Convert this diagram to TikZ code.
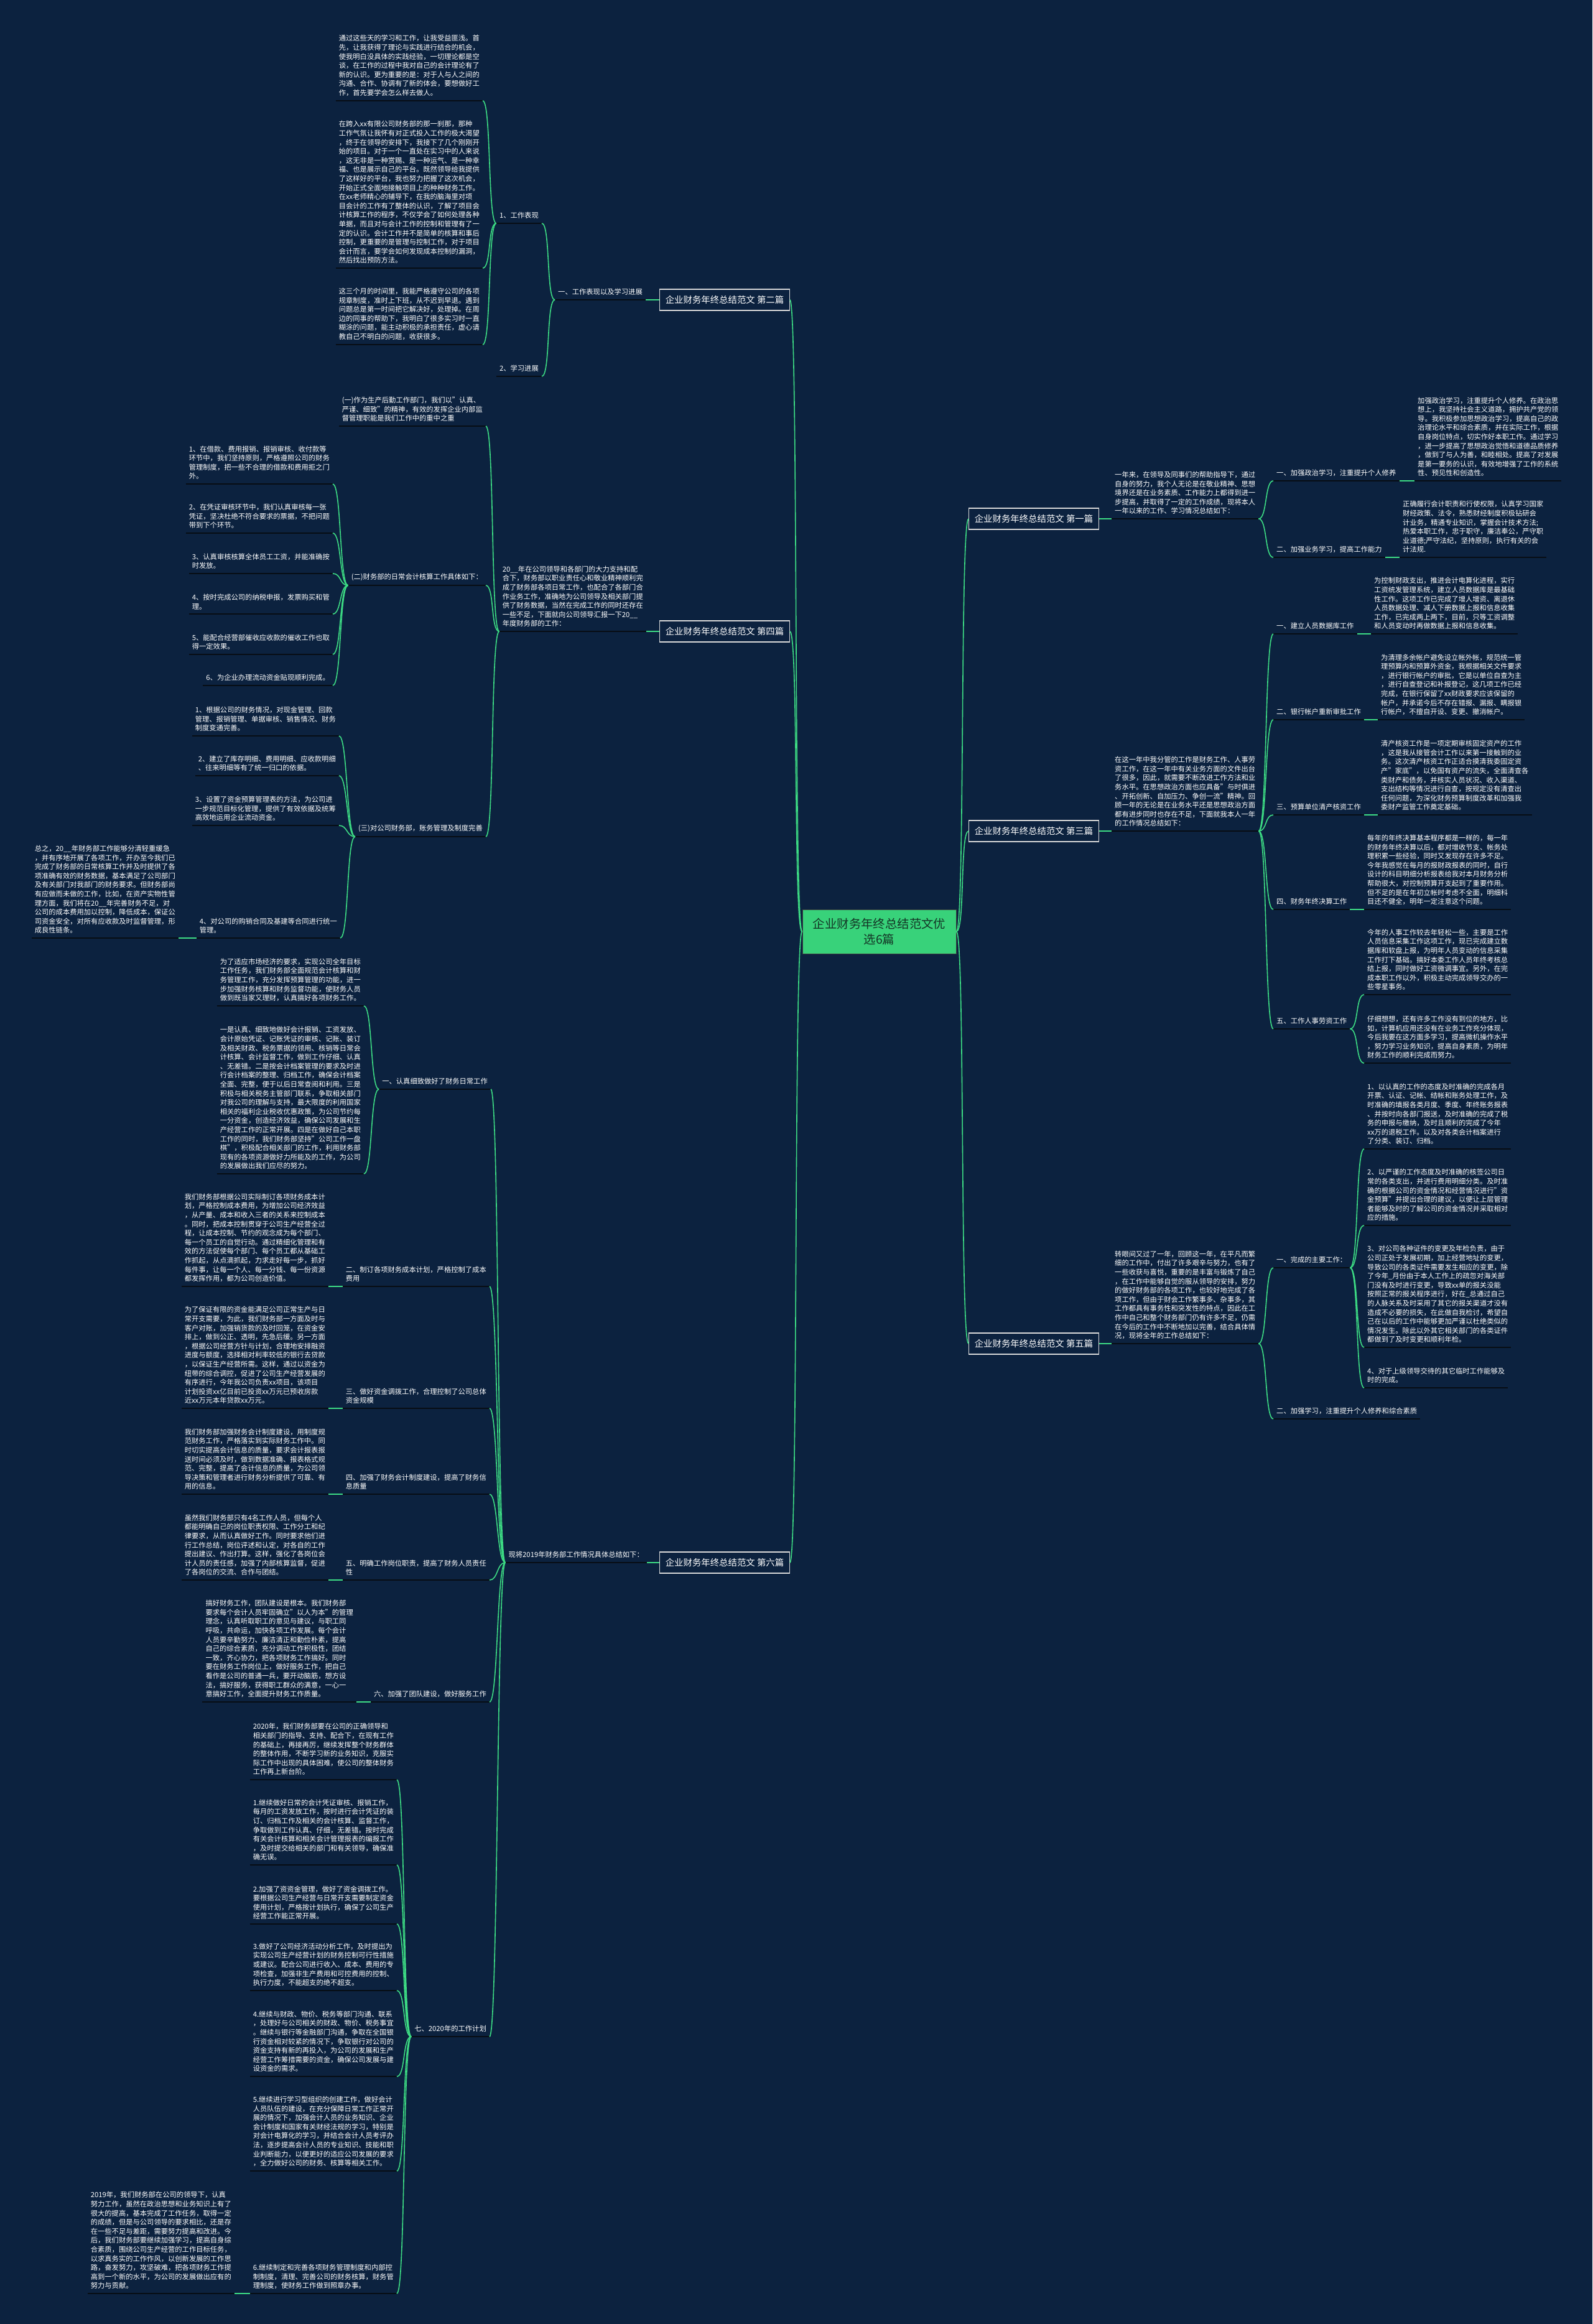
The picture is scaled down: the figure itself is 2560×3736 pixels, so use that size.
\documentclass[tikz,border=0pt]{standalone}
\usepackage{fontspec}
\setmainfont{Noto Sans CJK SC}
\usepackage{tikz}
\usetikzlibrary{positioning}
\definecolor{bgnavy}{HTML}{0C223F}
\definecolor{linkgreen}{HTML}{3DDC84}
\definecolor{rootgreen}{HTML}{38D27A}
\definecolor{rootink}{HTML}{143526}
\definecolor{rulecol}{HTML}{070D14}
\tikzset{
    central/.style={rectangle, fill=rootgreen, draw=black!75, line width=1pt, text=rootink, align=center, font=\fontsize{19.4}{25}\selectfont, minimum width=247pt, minimum height=71pt, inner sep=0pt},
    chapter/.style={rectangle, fill=bgnavy, draw=white!85!black, line width=1.3pt, text=white, font=\fontsize{14.4}{17}\selectfont, minimum height=34pt, inner xsep=9pt, inner ysep=0pt},
    entry/.style={text=white, align=left, font=\fontsize{11.3}{14.6}\selectfont, inner xsep=5pt, inner ysep=7pt,
        append after command={(\tikzlastnode.south west) edge[draw=rulecol, line width=2pt] (\tikzlastnode.south east)}},
    lentry/.style={entry, anchor=south east},
    rentry/.style={entry, anchor=south west},
    linkleft/.style={draw=linkgreen, line width=1.6pt, to path={.. controls +(-14,0) and +(14,0) .. (\tikztotarget) \tikztonodes}},
    linkright/.style={draw=linkgreen, line width=1.6pt, to path={.. controls +(14,0) and +(-14,0) .. (\tikztotarget) \tikztonodes}}
}

\begin{document}
\begin{tikzpicture}[x=1pt, y=-1pt]
    \fill[bgnavy] (0,0) rectangle (2560,3736);
    \useasboundingbox (0,0) rectangle (2560,3736);

    \node[central] (root) at (1413.5,1497.5) {企业财务年终总结范文优\\选6篇};

    \begin{scope}
        \node[chapter] (p2) at (1165,482) {企业财务年终总结范文 第二篇};
        \node[lentry] (p2a) at (1038,482) {一、工作表现以及学习进展};
        \node[lentry] (p2b) at (871,359) {1、工作表现};
        \node[lentry] (p2c) at (871,605) {2、学习进展};
        \node[lentry] (p2b1) at (776,162) {通过这些天的学习和工作，让我受益匪浅。首\\先，让我获得了理论与实践进行结合的机会，\\使我明白没具体的实践经验，一切理论都是空\\谈，在工作的过程中我对自己的会计理论有了\\新的认识。更为重要的是：对于人与人之间的\\沟通、合作、协调有了新的体会，要想做好工\\作，首先要学会怎么样去做人。};
        \node[lentry] (p2b2) at (776,431) {在跨入xx有限公司财务部的那一刹那，那种\\工作气氛让我怀有对正式投入工作的极大渴望\\，终于在领导的安排下，我接下了几个刚刚开\\始的项目。对于一个一直处在实习中的人来说\\，这无非是一种赏赐、是一种运气、是一种幸\\福、也是展示自己的平台。既然领导给我提供\\了这样好的平台，我也努力把握了这次机会，\\开始正式全面地接触项目上的种种财务工作。\\在xx老师精心的辅导下，在我的脑海里对项\\目会计的工作有了整体的认识，了解了项目会\\计核算工作的程序，不仅学会了如何处理各种\\单据，而且对与会计工作的控制和管理有了一\\定的认识。会计工作并不是简单的核算和事后\\控制，更重要的是管理与控制工作，对于项目\\会计而言，要学会如何发现成本控制的漏洞，\\然后找出预防方法。};
        \node[lentry] (p2b3) at (776,554) {这三个月的时间里，我能严格遵守公司的各项\\规章制度，准时上下班，从不迟到早退。遇到\\问题总是第一时间把它解决好，处理掉。在周\\边的同事的帮助下，我明白了很多实习时一直\\糊涂的问题，能主动积极的承担责任，虚心请\\教自己不明白的问题，收获很多。};
        \draw[linkleft] (root.west) to (p2.east);
        \draw[linkleft] (p2.west) to (p2a.south east);
        \draw[linkleft] (p2a.south west) to (p2b.south east);
        \draw[linkleft] (p2a.south west) to (p2c.south east);
        \foreach \c in {p2b1,p2b2,p2b3}
            \draw[linkleft] (p2b.south west) to (\c.south east);
    \end{scope}

    \begin{scope}
        \node[chapter] (p4) at (1165,1015) {企业财务年终总结范文 第四篇};
        \node[lentry] (p4a) at (1039,1015) {20\_\_年在公司领导和各部门的大力支持和配\\合下，财务部以职业责任心和敬业精神顺利完\\成了财务部各项日常工作，也配合了各部门合\\作业务工作，准确地为公司领导及相关部门提\\供了财务数据，当然在完成工作的同时还存在\\一些不足，下面就向公司领导汇报一下20\_\_\\年度财务部的工作：};
        \node[lentry] (p4b) at (781,685) {(一)作为生产后勤工作部门，我们以"认真、\\严谨、细致"的精神，有效的发挥企业内部监\\督管理职能是我们工作中的重中之重};
        \node[lentry] (p4c) at (781,941) {(二)财务部的日常会计核算工作具体如下：};
        \node[lentry] (p4d) at (781,1345) {(三)对公司财务部，账务管理及制度完善};
        \node[lentry] (p4c1) at (535,778) {1、在借款、费用报销、报销审核、收付款等\\环节中，我们坚持原则，严格遵照公司的财务\\管理制度，把一些不合理的借款和费用拒之门\\外。};
        \node[lentry] (p4c2) at (535,857) {2、在凭证审核环节中，我们认真审核每一张\\凭证，坚决杜绝不符合要求的票据，不把问题\\带到下个环节。};
        \node[lentry] (p4c3) at (535,922) {3、认真审核核算全体员工工资，并能准确按\\时发放。};
        \node[lentry] (p4c4) at (535,987) {4、按时完成公司的纳税申报，发票购买和管\\理。};
        \node[lentry] (p4c5) at (535,1052) {5、能配合经营部催收应收款的催收工作也取\\得一定效果。};
        \node[lentry] (p4c6) at (535,1102) {6、为企业办理流动资金贴现顺利完成。};
        \node[lentry] (p4d1) at (545,1183) {1、根据公司的财务情况，对现金管理、回款\\管理、报销管理、单据审核、销售情况、财务\\制度变通完善。};
        \node[lentry] (p4d2) at (545,1247) {2、建立了库存明细、费用明细、应收款明细\\、往来明细等有了统一归口的依据。};
        \node[lentry] (p4d3) at (545,1327) {3、设置了资金预算管理表的方法，为公司进\\一步规范目标化管理，提供了有效依据及统筹\\高效地运用企业流动资金。};
        \node[lentry] (p4d4) at (547,1508) {4、对公司的购销合同及基建等合同进行统一\\管理。};
        \node[lentry] (p4d5) at (287,1508) {总之，20\_\_年财务部工作能够分清轻重缓急\\，并有序地开展了各项工作，开办至今我们已\\完成了财务部的日常核算工作并及时提供了各\\项准确有效的财务数据，基本满足了公司部门\\及有关部门对我部门的财务要求。但财务部尚\\有应做而未做的工作，比如，在资产实物性管\\理方面，我们将在20\_\_年完善财务不足，对\\公司的成本费用加以控制，降低成本，保证公\\司资金安全，对所有应收款及时监督管理，形\\成良性链条。};
        \draw[linkleft] (root.west) to (p4.east);
        \draw[linkleft] (p4.west) to (p4a.south east);
        \foreach \c in {p4b,p4c,p4d}
            \draw[linkleft] (p4a.south west) to (\c.south east);
        \foreach \c in {p4c1,p4c2,p4c3,p4c4,p4c5,p4c6}
            \draw[linkleft] (p4c.south west) to (\c.south east);
        \foreach \c in {p4d1,p4d2,p4d3,p4d4}
            \draw[linkleft] (p4d.south west) to (\c.south east);
        \draw[linkleft] (p4d4.south west) to (p4d5.south east);
    \end{scope}

    \begin{scope}
        \node[chapter] (p6) at (1165,2512) {企业财务年终总结范文 第六篇};
        \node[lentry] (p6a) at (1040,2512) {现将2019年财务部工作情况具体总结如下：};
        \node[lentry] (p6b) at (789,1751) {一、认真细致做好了财务日常工作};
        \node[lentry] (p6b1) at (585,1617) {为了适应市场经济的要求，实现公司全年目标\\工作任务，我们财务部全面规范会计核算和财\\务管理工作，充分发挥预算管理的功能，进一\\步加强财务核算和财务监督功能，使财务人员\\做到既当家又理财，认真搞好各项财务工作。};
        \node[lentry] (p6b2) at (585,1887) {一是认真、细致地做好会计报销、工资发放、\\会计原始凭证、记账凭证的审核、记账、装订\\及相关财政、税务票据的领用、核销等日常会\\计核算、会计监督工作，做到工作仔细、认真\\、无差错。二是按会计档案管理的要求及时进\\行会计档案的整理、归档工作，确保会计档案\\全面、完整，便于以后日常查阅和利用。三是\\积极与相关税务主管部门联系，争取相关部门\\对我公司的理解与支持，最大限度的利用国家\\相关的福利企业税收优惠政策，为公司节约每\\一分资金，创造经济效益，确保公司发展和生\\产经营工作的正常开展。四是在做好自己本职\\工作的同时，我们财务部坚持"公司工作一盘\\棋"，积极配合相关部门的工作，利用财务部\\现有的各项资源做好力所能及的工作，为公司\\的发展做出我们应尽的努力。};
        \node[lentry] (p6c) at (787,2068) {二、制订各项财务成本计划，严格控制了成本\\费用};
        \node[lentry] (p6c1) at (528,2068) {我们财务部根据公司实际制订各项财务成本计\\划，严格控制成本费用，为增加公司经济效益\\，从产量、成本和收入三者的关系来控制成本\\。同时，把成本控制贯穿于公司生产经营全过\\程，让成本控制、节约的观念成为每个部门、\\每一个员工的自觉行动。通过精细化管理和有\\效的方法促使每个部门、每个员工都从基础工\\作抓起，从点滴抓起，力求走好每一步，抓好\\每件事，让每一个人、每一分钱、每一份资源\\都发挥作用，都为公司创造价值。};
        \node[lentry] (p6d) at (787,2264) {三、做好资金调拨工作，合理控制了公司总体\\资金规模};
        \node[lentry] (p6d1) at (528,2264) {为了保证有限的资金能满足公司正常生产与日\\常开支需要，为此，我们财务部一方面及时与\\客户对账，加强销货款的及时回笼，在资金安\\排上，做到公正、透明，先急后缓。另一方面\\，根据公司经营方针与计划，合理地安排融资\\进度与额度，选择相对利率较低的银行去贷款\\，以保证生产经营所需。这样，通过以资金为\\纽带的综合调控，促进了公司生产经营发展的\\有序进行，今年我公司负责xx项目，该项目\\计划投资xx亿目前已投资xx万元已预收房款\\近xx万元本年贷款xx万元。};
        \node[lentry] (p6e) at (787,2402) {四、加强了财务会计制度建设，提高了财务信\\息质量};
        \node[lentry] (p6e1) at (528,2402) {我们财务部加强财务会计制度建设，用制度规\\范财务工作，严格落实到实际财务工作中。同\\时切实提高会计信息的质量，要求会计报表报\\送时间必须及时，做到数据准确、报表格式规\\范、完整，提高了会计信息的质量，为公司领\\导决策和管理者进行财务分析提供了可靠、有\\用的信息。};
        \node[lentry] (p6f) at (787,2540) {五、明确工作岗位职责，提高了财务人员责任\\性};
        \node[lentry] (p6f1) at (528,2540) {虽然我们财务部只有4名工作人员，但每个人\\都能明确自己的岗位职责权限、工作分工和纪\\律要求，从而认真做好工作。同时要求他们进\\行工作总结，岗位评述和认定，对各自的工作\\提出建议、作出打算。这样，强化了各岗位会\\计人员的责任感，加强了内部核算监督，促进\\了各岗位的交流、合作与团结。};
        \node[lentry] (p6g) at (787,2736) {六、加强了团队建设，做好服务工作};
        \node[lentry] (p6g1) at (573,2736) {搞好财务工作，团队建设是根本。我们财务部\\要求每个会计人员牢固确立"以人为本"的管理\\理念，认真听取职工的意见与建议，与职工同\\呼吸，共命运，加快各项工作发展。每个会计\\人员要辛勤努力、廉洁清正和勤俭朴素，提高\\自己的综合素质，充分调动工作积极性，团结\\一致，齐心协力，把各项财务工作搞好。同时\\要在财务工作岗位上，做好服务工作，把自己\\看作是公司的普通一兵，要开动脑筋，想方设\\法，搞好服务，获得职工群众的满意，一心一\\意搞好工作，全面提升财务工作质量。};
        \node[lentry] (p6h) at (787,3274) {七、2020年的工作计划};
        \node[lentry] (p6h0) at (638,2861) {2020年，我们财务部要在公司的正确领导和\\相关部门的指导、支持、配合下，在现有工作\\的基础上，再接再厉，继续发挥整个财务群体\\的整体作用，不断学习新的业务知识，克服实\\际工作中出现的具体困难，使公司的整体财务\\工作再上新台阶。};
        \node[lentry] (p6h1) at (638,2998) {1.继续做好日常的会计凭证审核、报销工作，\\每月的工资发放工作，按时进行会计凭证的装\\订、归档工作及相关的会计核算、监督工作，\\争取做到工作认真、仔细，无差错。按时完成\\有关会计核算和相关会计管理报表的编报工作\\，及时提交给相关的部门和有关领导，确保准\\确无误。};
        \node[lentry] (p6h2) at (638,3093) {2.加强了资资金管理，做好了资金调拨工作。\\要根据公司生产经营与日常开支需要制定资金\\使用计划，严格按计划执行，确保了公司生产\\经营工作能正常开展。};
        \node[lentry] (p6h3) at (638,3200) {3.做好了公司经济活动分析工作，及时提出为\\实现公司生产经营计划的财务控制可行性措施\\或建议。配合公司进行收入、成本、费用的专\\项检查，加强非生产费用和可控费用的控制、\\执行力度，不能超支的绝不超支。};
        \node[lentry] (p6h4) at (638,3338) {4.继续与财政、物价、税务等部门沟通、联系\\，处理好与公司相关的财政、物价、税务事宜\\。继续与银行等金融部门沟通，争取在全国银\\行资金相对较紧的情况下，争取银行对公司的\\资金支持有新的再投入，为公司的发展和生产\\经营工作筹措需要的资金，确保公司发展与建\\设资金的需求。};
        \node[lentry] (p6h5) at (638,3490) {5.继续进行学习型组织的创建工作，做好会计\\人员队伍的建设，在充分保障日常工作正常开\\展的情况下，加强会计人员的业务知识、企业\\会计制度和国家有关财经法规的学习，特别是\\对会计电算化的学习，并结合会计人员考评办\\法，逐步提高会计人员的专业知识、技能和职\\业判断能力，以便更好的适应公司发展的要求\\，全力做好公司的财务、核算等相关工作。};
        \node[lentry] (p6h6) at (638,3687) {6.继续制定和完善各项财务管理制度和内部控\\制制度，清理、完善公司的财务核算，财务管\\理制度，使财务工作做到照章办事。};
        \node[lentry] (p6h7) at (377,3687) {2019年，我们财务部在公司的领导下，认真\\努力工作，虽然在政治思想和业务知识上有了\\很大的提高，基本完成了工作任务，取得一定\\的成绩，但是与公司领导的要求相比，还是存\\在一些不足与差距，需要努力提高和改进。今\\后，我们财务部要继续加强学习，提高自身综\\合素质，围绕公司生产经营的工作目标任务，\\以求真务实的工作作风，以创新发展的工作思\\路，奋发努力，攻坚破难，把各项财务工作提\\高到一个新的水平，为公司的发展做出应有的\\努力与贡献。};
        \draw[linkleft] (root.west) to (p6.east);
        \draw[linkleft] (p6.west) to (p6a.south east);
        \foreach \c in {p6b,p6c,p6d,p6e,p6f,p6g,p6h}
            \draw[linkleft] (p6a.south west) to (\c.south east);
        \foreach \c in {p6b1,p6b2}
            \draw[linkleft] (p6b.south west) to (\c.south east);
        \draw[linkleft] (p6c.south west) to (p6c1.south east);
        \draw[linkleft] (p6d.south west) to (p6d1.south east);
        \draw[linkleft] (p6e.south west) to (p6e1.south east);
        \draw[linkleft] (p6f.south west) to (p6f1.south east);
        \draw[linkleft] (p6g.south west) to (p6g1.south east);
        \foreach \c in {p6h0,p6h1,p6h2,p6h3,p6h4,p6h5,p6h6}
            \draw[linkleft] (p6h.south west) to (\c.south east);
        \draw[linkleft] (p6h6.south west) to (p6h7.south east);
    \end{scope}

    \begin{scope}
        \node[chapter] (p1) at (1662,834) {企业财务年终总结范文 第一篇};
        \node[rentry] (p1a) at (1787,834) {一年来，在领导及同事们的帮助指导下，通过\\自身的努力，我个人无论是在敬业精神、思想\\境界还是在业务素质、工作能力上都得到进一\\步提高，并取得了一定的工作成绩，现将本人\\一年以来的工作、学习情况总结如下：};
        \node[rentry] (p1b) at (2047,773) {一、加强政治学习，注重提升个人修养};
        \node[rentry] (p1b1) at (2274,773) {加强政治学习，注重提升个人修养。在政治思\\想上，我坚持社会主义道路，拥护共产党的领\\导。我积极参加思想政治学习，提高自己的政\\治理论水平和综合素质，并在实际工作，根据\\自身岗位特点，切实作好本职工作。通过学习\\，进一步提高了思想政治觉悟和道德品质修养\\，做到了与人为善，和睦相处。提高了对发展\\是第一要务的认识，有效地增强了工作的系统\\性、预见性和创造性。};
        \node[rentry] (p1c) at (2047,896) {二、加强业务学习，提高工作能力};
        \node[rentry] (p1c1) at (2250,896) {正确履行会计职责和行使权限，认真学习国家\\财经政策、法令，熟悉财经制度积极钻研会\\计业务，精通专业知识，掌握会计技术方法;\\热爱本职工作，忠于职守，廉洁奉公，严守职\\业道德;严守法纪，坚持原则，执行有关的会\\计法规.};
        \draw[linkright] (root.east) to (p1.west);
        \draw[linkright] (p1.east) to (p1a.south west);
        \draw[linkright] (p1a.south east) to (p1b.south west);
        \draw[linkright] (p1a.south east) to (p1c.south west);
        \draw[linkright] (p1b.south east) to (p1b1.south west);
        \draw[linkright] (p1c.south east) to (p1c1.south west);
    \end{scope}

    \begin{scope}
        \node[chapter] (p3) at (1662,1336) {企业财务年终总结范文 第三篇};
        \node[rentry] (p3a) at (1787,1336) {在这一年中我分管的工作是财务工作、人事劳\\资工作，在这一年中有关业务方面的文件出台\\了很多，因此，就需要不断改进工作方法和业\\务水平。在思想政治方面也应具备"与时俱进\\、开拓创新、自加压力、争创一流"精神。回\\顾一年的无论是在业务水平还是思想政治方面\\都有进步同时也存在不足，下面就我本人一年\\的工作情况总结如下：};
        \node[rentry] (p3b) at (2047,1019) {一、建立人员数据库工作};
        \node[rentry] (p3b1) at (2204,1019) {为控制财政支出，推进会计电算化进程，实行\\工资统发管理系统，建立人员数据库是最基础\\性工作。这项工作已完成了增人增资、离退休\\人员数据处理、减人下册数据上报和信息收集\\工作，已完成两上两下，目前，只等工资调整\\和人员变动时再做数据上报和信息收集。};
        \node[rentry] (p3c) at (2047,1157) {二、银行帐户重新审批工作};
        \node[rentry] (p3c1) at (2215,1157) {为清理多余帐户避免设立帐外帐，规范统一管\\理预算内和预算外资金，我根据相关文件要求\\，进行银行帐户的审批，它是以单位自查为主\\，进行自查登记和补报登记，这几项工作已经\\完成，在银行保留了xx财政要求应该保留的\\帐户，并承诺今后不存在错报、漏报、瞒报银\\行帐户，不擅自开设、变更、撤消帐户。};
        \node[rentry] (p3d) at (2047,1310) {三、预算单位清产核资工作};
        \node[rentry] (p3d1) at (2215,1310) {清产核资工作是一项定期审核固定资产的工作\\，这是我从接管会计工作以来第一接触到的业\\务。这次清产核资工作正适合摸清我委固定资\\产"家底"，以免国有资产的流失，全面清查各\\类财产和债务，并核实人员状况、收入渠道、\\支出结构等情况进行自查，按规定没有清查出\\任何问题，为深化财务预算制度改革和加强我\\委财产监管工作奠定基础。};
        \node[rentry] (p3e) at (2047,1462) {四、财务年终决算工作};
        \node[rentry] (p3e1) at (2193,1462) {每年的年终决算基本程序都是一样的，每一年\\的财务年终决算以后，都对增收节支、帐务处\\理积累一些经验，同时又发现存在许多不足。\\今年我感觉在每月的报财政报表的同时，自行\\设计的科目明细分析报表给我对本月财务分析\\帮助很大，对控制预算开支起到了重要作用。\\但不足的是在年初立帐时考虑不全面，明细科\\目还不健全，明年一定注意这个问题。};
        \node[rentry] (p3f) at (2047,1654) {五、工作人事劳资工作};
        \node[rentry] (p3f1) at (2193,1599) {今年的人事工作较去年轻松一些，主要是工作\\人员信息采集工作这项工作，现已完成建立数\\据库和软盘上报，为明年人员变动的信息采集\\工作打下基础。搞好本委工作人员年终考核总\\结上报，同时做好工资微调事宜。另外，在完\\成本职工作以外，积极主动完成领导交办的一\\些零星事务。};
        \node[rentry] (p3f2) at (2193,1709) {仔细想想，还有许多工作没有到位的地方，比\\如，计算机应用还没有在业务工作充分体现，\\今后我要在这方面多学习，提高微机操作水平\\，努力学习业务知识，提高自身素质，为明年\\财务工作的顺利完成而努力。};
        \draw[linkright] (root.east) to (p3.west);
        \draw[linkright] (p3.east) to (p3a.south west);
        \foreach \c in {p3b,p3c,p3d,p3e,p3f}
            \draw[linkright] (p3a.south east) to (\c.south west);
        \draw[linkright] (p3b.south east) to (p3b1.south west);
        \draw[linkright] (p3c.south east) to (p3c1.south west);
        \draw[linkright] (p3d.south east) to (p3d1.south west);
        \draw[linkright] (p3e.south east) to (p3e1.south west);
        \draw[linkright] (p3f.south east) to (p3f1.south west);
        \draw[linkright] (p3f.south east) to (p3f2.south west);
    \end{scope}

    \begin{scope}
        \node[chapter] (p5) at (1662,2160) {企业财务年终总结范文 第五篇};
        \node[rentry] (p5a) at (1787,2160) {转眼间又过了一年，回顾这一年，在平凡而繁\\细的工作中，付出了许多艰辛与努力，也有了\\一些收获与喜悦，重要的是丰富与锻炼了自己\\，在工作中能够自觉的服从领导的安排，努力\\的做好财务部的各项工作，也较好地完成了各\\项工作，但由于财会工作繁事多、杂事多，其\\工作都具有事务性和突发性的特点，因此在工\\作中自己和整个财务部门仍有许多不足，仍需\\在今后的工作中不断地加以完善，结合具体情\\况，现将全年的工作总结如下：};
        \node[rentry] (p5b) at (2047,2038) {一、完成的主要工作：};
        \node[rentry] (p5b1) at (2193,1847) {1、以认真的工作的态度及时准确的完成各月\\开票、认证、记帐、结帐和账务处理工作，及\\时准确的填报各类月度、季度、年终账务报表\\、并按时向各部门报送，及时准确的完成了税\\务的申报与缴纳，及时且顺利的完成了今年\\xx万的退税工作。以及对各类会计档案进行\\了分类、装订、归档。};
        \node[rentry] (p5b2) at (2193,1970) {2、以严谨的工作态度及时准确的核签公司日\\常的各类支出，并进行费用明细分类。及时准\\确的根据公司的资金情况和经营情况进行"资\\金预算"并提出合理的建议，以便让上层管理\\者能够及时的了解公司的资金情况并采取相对\\应的措施。};
        \node[rentry] (p5b3) at (2193,2166) {3、对公司各种证件的变更及年检负责，由于\\公司正处于发展初期，加上经营地址的变更，\\导致公司的各类证件需要发生相应的变更，除\\了今年\_月份由于本人工作上的疏忽对海关部\\门没有及时进行变更，导致xx单的报关没能\\按照正常的报关程序进行，好在\_总通过自己\\的人脉关系及时采用了其它的报关渠道才没有\\造成不必要的损失，在此做自我检讨，希望自\\己在以后的工作中能够更加严谨以杜绝类似的\\情况发生。除此以外其它相关部门的各类证件\\都做到了及时变更和顺利年检。};
        \node[rentry] (p5b4) at (2193,2231) {4、对于上级领导交待的其它临时工作能够及\\时的完成。};
        \node[rentry] (p5c) at (2047,2281) {二、加强学习，注重提升个人修养和综合素质};
        \draw[linkright] (root.east) to (p5.west);
        \draw[linkright] (p5.east) to (p5a.south west);
        \draw[linkright] (p5a.south east) to (p5b.south west);
        \draw[linkright] (p5a.south east) to (p5c.south west);
        \foreach \c in {p5b1,p5b2,p5b3,p5b4}
            \draw[linkright] (p5b.south east) to (\c.south west);
    \end{scope}
\end{tikzpicture}
\end{document}
